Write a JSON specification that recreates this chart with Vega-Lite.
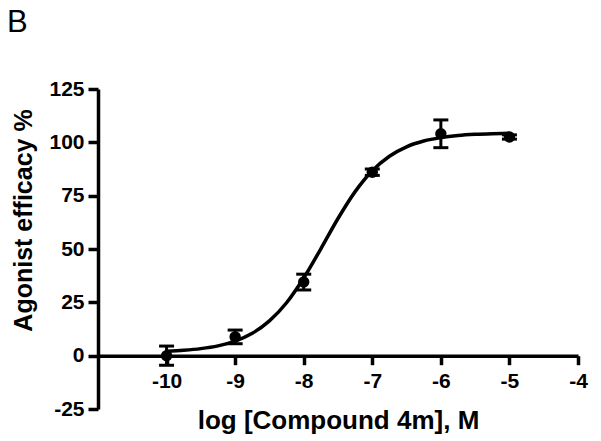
{
  "$schema": "https://vega.github.io/schema/vega-lite/v6.json",
  "width": 480,
  "height": 320,
  "autosize": {"type": "none"},
  "padding": {"left": 98, "top": 89, "right": 23, "bottom": 32},
  "background": "white",
  "config": {"view": {"stroke": null}, "font": "Liberation Sans"},
  "title": {"text": "B", "anchor": "start", "frame": "group", "fontSize": 31, "fontWeight": "normal", "font": "Liberation Sans", "color": "black", "baseline": "alphabetic", "offset": 45, "dx": -91, "dy": 30},
  "datasets": {
    "points": [
      {"logc": -10, "eff": 0, "lo": -4.5, "hi": 4.5},
      {"logc": -9, "eff": 8.8, "lo": 5.6, "hi": 12},
      {"logc": -8, "eff": 34.5, "lo": 30.8, "hi": 38.2},
      {"logc": -7, "eff": 86, "lo": 84.5, "hi": 87.5},
      {"logc": -6, "eff": 104, "lo": 97.5, "hi": 110.5},
      {"logc": -5, "eff": 102.5, "lo": 101.5, "hi": 103.5}
    ],
    "curve": [
      {"logc": -10, "eff": 2.1},
      {"logc": -9.75, "eff": 2.55},
      {"logc": -9.5, "eff": 3.3},
      {"logc": -9.25, "eff": 4.6},
      {"logc": -9, "eff": 6.85},
      {"logc": -8.75, "eff": 10.5},
      {"logc": -8.5, "eff": 16.3},
      {"logc": -8.25, "eff": 24.8},
      {"logc": -8, "eff": 36.4},
      {"logc": -7.75, "eff": 50.1},
      {"logc": -7.5, "eff": 64.3},
      {"logc": -7.25, "eff": 76.9},
      {"logc": -7, "eff": 86.7},
      {"logc": -6.75, "eff": 93.5},
      {"logc": -6.5, "eff": 97.9},
      {"logc": -6.25, "eff": 100.6},
      {"logc": -6, "eff": 102.2},
      {"logc": -5.75, "eff": 103.2},
      {"logc": -5.5, "eff": 103.75},
      {"logc": -5.25, "eff": 104.05},
      {"logc": -5, "eff": 104.2}
    ]
  },
  "layer": [
    {
      "data": {"name": "curve"},
      "mark": {"type": "line", "color": "black", "strokeWidth": 3.5, "interpolate": "monotone"},
      "encoding": {
        "x": {
          "field": "logc", "type": "quantitative",
          "scale": {"domain": [-11, -4], "nice": false, "zero": false},
          "axis": {
            "values": [-10, -9, -8, -7, -6, -5, -4],
            "labelExpr": "'' + datum.value",
            "offset": -53.3,
            "grid": false,
            "domainColor": "black", "domainWidth": 3.5,
            "tickColor": "black", "tickWidth": 3.5, "tickSize": 9,
            "labelFont": "Liberation Sans", "labelFontSize": 21, "labelFontWeight": "bold", "labelColor": "black",
            "labelPadding": 6, "labelFlush": false, "labelOverlap": false,
            "title": "log [Compound 4m], M",
            "titleFont": "Liberation Sans", "titleFontSize": 26, "titleFontWeight": "bold", "titleColor": "black",
            "titleY": 52
          }
        },
        "y": {
          "field": "eff", "type": "quantitative",
          "scale": {"domain": [-25, 125], "nice": false, "zero": false},
          "axis": {
            "values": [-25, 0, 25, 50, 75, 100, 125],
            "labelExpr": "'' + datum.value",
            "grid": false,
            "domainColor": "black", "domainWidth": 3.5,
            "tickColor": "black", "tickWidth": 3.5, "tickSize": 10,
            "labelFont": "Liberation Sans", "labelFontSize": 21, "labelFontWeight": "bold", "labelColor": "black",
            "labelPadding": 4, "labelOverlap": false,
            "title": "Agonist efficacy %",
            "titleFont": "Liberation Sans", "titleFontSize": 25, "titleFontWeight": "bold", "titleColor": "black",
            "titleX": -62, "titleY": 131
          }
        }
      }
    },
    {
      "data": {"name": "points"},
      "mark": {"type": "rule", "color": "black", "strokeWidth": 3, "opacity": 1},
      "encoding": {
        "x": {"field": "logc", "type": "quantitative"},
        "y": {"field": "lo", "type": "quantitative"},
        "y2": {"field": "hi"}
      }
    },
    {
      "data": {"name": "points"},
      "mark": {"type": "tick", "color": "black", "thickness": 3, "size": 15, "orient": "horizontal", "opacity": 1},
      "encoding": {
        "x": {"field": "logc", "type": "quantitative"},
        "y": {"field": "lo", "type": "quantitative"}
      }
    },
    {
      "data": {"name": "points"},
      "mark": {"type": "tick", "color": "black", "thickness": 3, "size": 15, "orient": "horizontal", "opacity": 1},
      "encoding": {
        "x": {"field": "logc", "type": "quantitative"},
        "y": {"field": "hi", "type": "quantitative"}
      }
    },
    {
      "data": {"name": "points"},
      "mark": {"type": "point", "filled": true, "color": "black", "opacity": 1, "size": 130},
      "encoding": {
        "x": {"field": "logc", "type": "quantitative"},
        "y": {"field": "eff", "type": "quantitative"}
      }
    }
  ]
}
